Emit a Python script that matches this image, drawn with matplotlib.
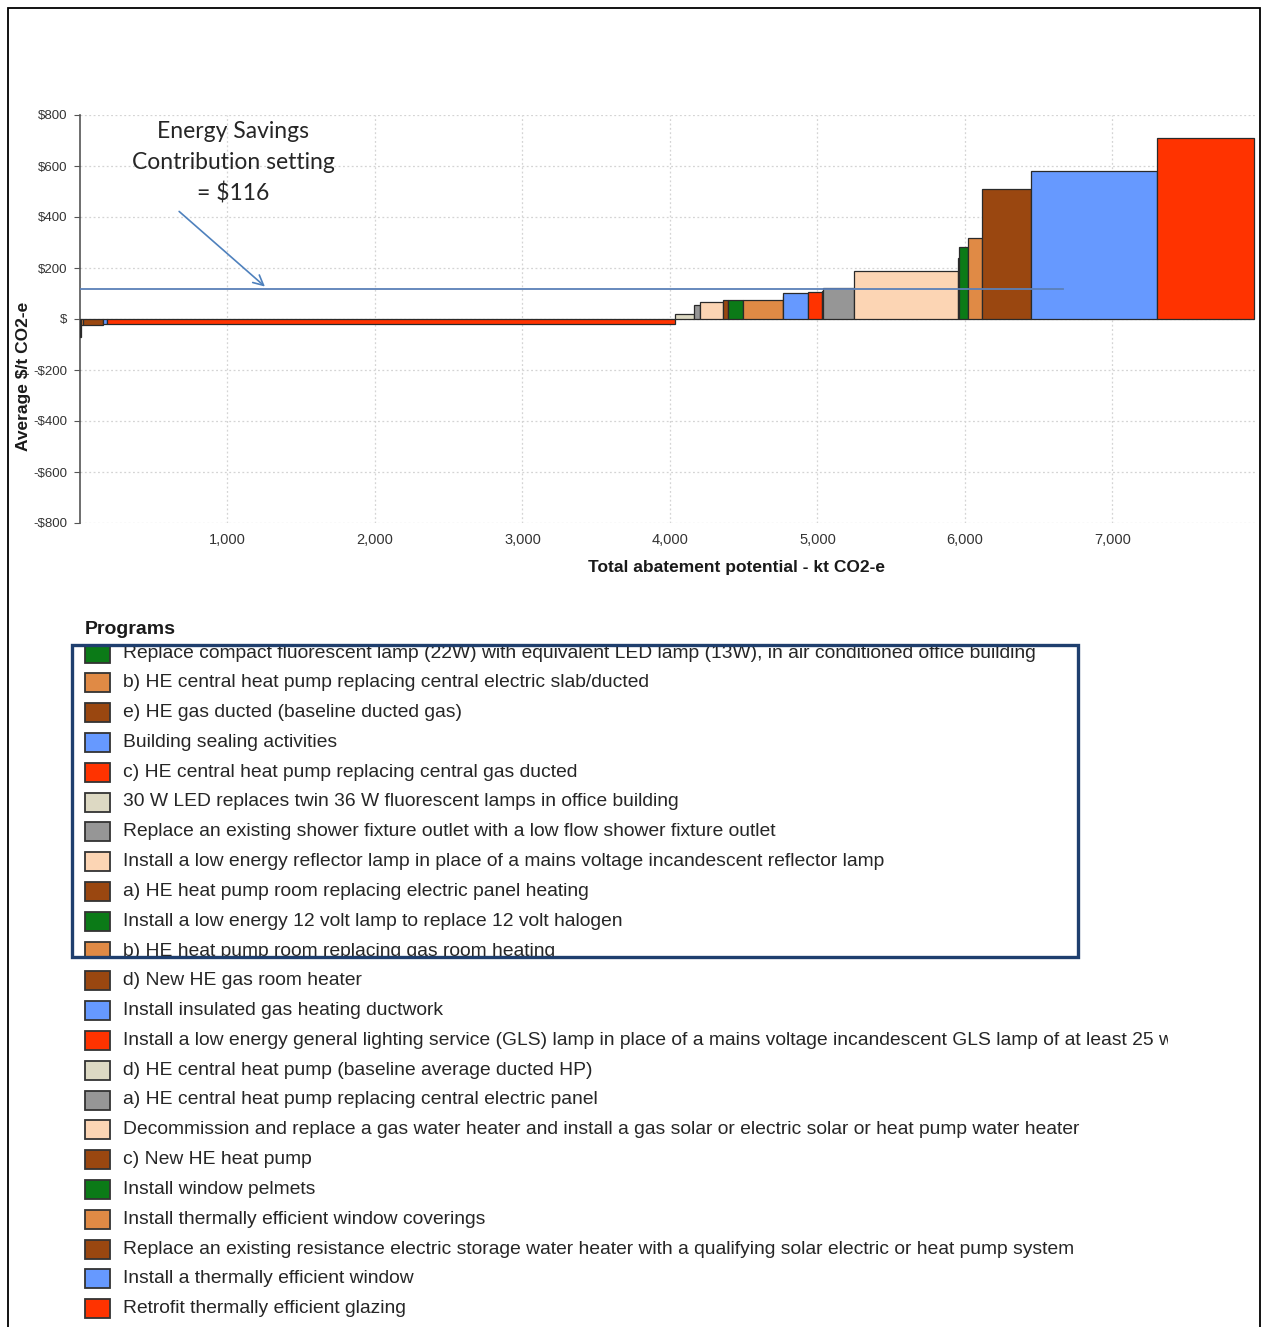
import numpy as np
import matplotlib
matplotlib.use("Agg")
import matplotlib.pyplot as plt
from matplotlib.patches import Rectangle
from matplotlib.transforms import Bbox

# programs in merit order (cheapest abatement first)
programs = [
    "Replace compact fluorescent lamp (22W) with equivalent LED lamp (13W), in air conditioned office building",
    "b) HE central heat pump replacing central electric slab/ducted",
    "e) HE gas ducted (baseline ducted gas)",
    "Building sealing activities",
    "c) HE central heat pump replacing central gas ducted",
    "30 W LED replaces twin 36 W fluorescent lamps in office building",
    "Replace an existing shower fixture outlet with a low flow shower fixture outlet",
    "Install a low energy reflector lamp in place of a mains voltage incandescent reflector lamp",
    "a) HE heat pump room replacing electric panel heating",
    "Install a low energy 12 volt lamp to replace 12 volt halogen",
    "b) HE heat pump room replacing gas room heating",
    "d) New HE gas room heater",
    "Install insulated gas heating ductwork",
    "Install a low energy general lighting service (GLS) lamp in place of a mains voltage incandescent GLS lamp of at least 25 watts",
    "d) HE central heat pump (baseline average ducted HP)",
    "a) HE central heat pump replacing central electric panel",
    "Decommission and replace a gas water heater and install a gas solar or electric solar or heat pump water heater",
    "c) New HE heat pump",
    "Install window pelmets",
    "Install thermally efficient window coverings",
    "Replace an existing resistance electric storage water heater with a qualifying solar electric or heat pump system",
    "Install a thermally efficient window",
    "Retrofit thermally efficient glazing",
]

# abatement potential (kt CO2-e) and average cost ($/t CO2-e)
potential = [8, 10, 136, 29, 3851, 129, 41, 156, 34, 101, 269, 5, 165, 97, 6, 211, 705, 5, 63, 95, 332, 852, 660]
cost = [-70, -25, -23, -21, -20, 21, 54, 68, 76, 76, 76, 90, 103, 104, 110, 123, 190, 240, 284, 318, 509, 580, 711]

green, orange, brown, blue = "#0B7A17", "#E08A45", "#9A4710", "#6699FF"
red, beige, grey, peach = "#FF3300", "#DDD9C3", "#969696", "#FCD5B4"
colors = [green, orange, brown, blue, red, beige, grey, peach,
          brown, green, orange, brown, blue, red, beige, grey, peach,
          brown, green, orange, brown, blue, red]

esc_setting = 116
esc_line_end = 6665

y_ticks = [800, 600, 400, 200, 0, -200, -400, -600, -800]
x_ticks = [1000, 2000, 3000, 4000, 5000, 6000, 7000]

W, H = 1261, 1327
fig = plt.figure(figsize=(W / 100, H / 100), dpi=100)


def fx(x):
    return x / W


def fy(y):
    return 1 - y / H


ax = fig.add_axes([fx(80), fy(523), fx(1257) - fx(80), fy(115) - fy(523)])

lefts = np.concatenate([[0], np.cumsum(potential)[:-1]])
ax.bar(lefts, cost, width=potential, align="edge", color=colors,
       edgecolor="#2a2a2a", linewidth=0.9, zorder=3)

# energy savings contribution setting
ax.plot([0, esc_line_end], [esc_setting, esc_setting], color="#5B80B8", lw=1.3, zorder=4)
ax.annotate("", xy=(1268, esc_setting + 4), xytext=(658, 429),
            arrowprops=dict(arrowstyle="->", color="#4F81BD", lw=1.2,
                            mutation_scale=18), zorder=5)
ax.text(1037, 612, "Energy Savings\nContribution setting\n= $%d" % esc_setting,
        ha="center", va="center", fontsize=16.5, family="Lato",
        color="#262626", linespacing=1.55, zorder=5)

ax.set_xlim(0, 7980)
ax.set_ylim(-800, 800)
ax.set_yticks(y_ticks)
ax.set_yticklabels([("-$%d" % -v) if v < 0 else ("$%d" % v if v > 0 else "$") for v in y_ticks],
                   fontsize=9.5, family="Liberation Sans", color="#333333")
ax.set_xticks(x_ticks)
ax.set_xticklabels(["{:,}".format(v) for v in x_ticks], fontsize=10.5,
                   family="Liberation Sans", color="#333333")
ax.tick_params(axis="y", direction="out", length=4, color="#555555", pad=5)
ax.tick_params(axis="x", length=0, pad=7)

for s in ["top", "right", "bottom"]:
    ax.spines[s].set_visible(False)
ax.spines["left"].set_color("#555555")
ax.spines["left"].set_linewidth(1.2)

ax.grid(True, axis="both", linestyle=(0, (1.5, 2)), color="#d4d4d4", lw=0.9, zorder=0)
ax.set_axisbelow(True)

fig.text(fx(737), fy(568), "Total abatement potential - kt CO2-e", ha="center", va="center",
         fontsize=12.5, fontweight="bold", family="Liberation Sans", color="#1a1a1a")
fig.text(fx(24), fy(376), "Average $/t CO2-e", ha="center", va="center", rotation=90,
         fontsize=12.5, fontweight="bold", family="Liberation Sans", color="#1a1a1a")

# legend list
fig.text(fx(85), fy(630), "Programs", ha="left", va="center", fontsize=14,
         fontweight="bold", family="Liberation Sans", color="#1a1a1a")

box_clip = Bbox([[72, H - 956], [1078, H - 647]])
right_clip = Bbox([[0, 0], [1168, H]])
for i, (name, c) in enumerate(zip(programs, colors)):
    y = 653 + 29.8 * i
    sw = Rectangle((fx(85), fy(y + 9.5)), 25 / W, 19 / H, transform=fig.transFigure,
                   facecolor=c, edgecolor="#333333", lw=1.3)
    fig.add_artist(sw)
    t = fig.text(fx(123), fy(y), name, ha="left", va="center", fontsize=13.85,
                 family="Liberation Sans", color="#262626")
    if i <= 10:
        t.set_clip_box(box_clip)
        t.set_clip_on(True)
        sw.set_clip_box(box_clip)
        sw.set_clip_on(True)
    else:
        t.set_clip_box(right_clip)
        t.set_clip_on(True)

fig.add_artist(Rectangle((fx(72), fy(957)), (1078 - 72) / W, (957 - 645) / H,
                         transform=fig.transFigure, fill=False, edgecolor="#1F3F6E", lw=2.4))

# outer frame
fig.add_artist(Rectangle((fx(8), fy(1345)), (1260 - 8) / W, (1345 - 8) / H,
                         transform=fig.transFigure, fill=False, edgecolor="black", lw=1.3))

fig.savefig("out.png", dpi=100)
